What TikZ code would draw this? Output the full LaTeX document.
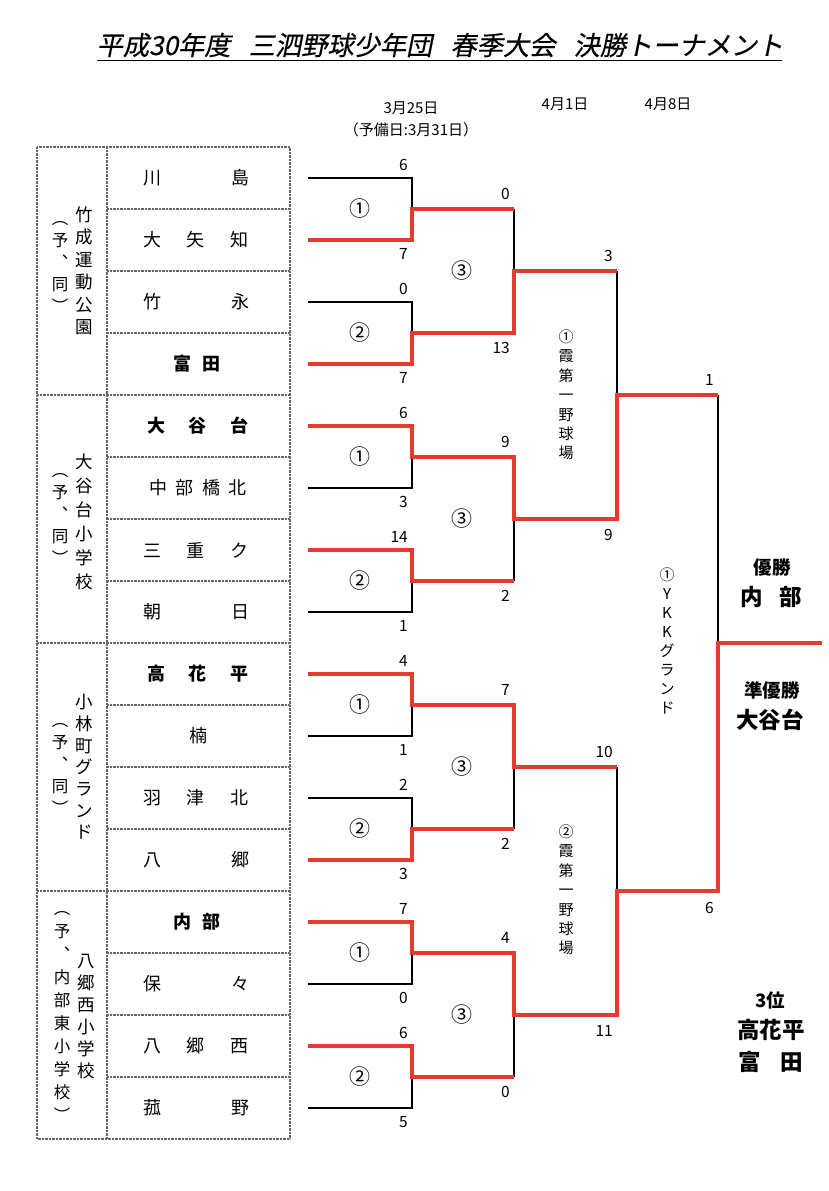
\documentclass[tikz,border=0pt]{standalone}
\usepackage{fontspec}
\setmainfont{Noto Sans CJK JP}
\newfontfamily\titlefont[FakeSlant=0.2, FakeBold=0.4]{Noto Sans CJK JP}
\definecolor{winred}{RGB}{228,58,48}
\newcommand\spr[2]{\makebox[#1pt][s]{#2}}
\tikzset{
  win/.style={draw=winred, line width=4pt, line join=miter},
  lose/.style={draw=black, line width=1.1pt},
  gridline/.style={draw=black!60, line width=1.3pt, dash pattern=on 0.7pt off 0.7pt},
  tn/.style={font=\fontsize{18}{18}\selectfont, inner sep=0pt},
  tb/.style={font=\bfseries\fontsize{18}{18}\selectfont, inner sep=0pt},
  vcol/.style={font=\fontsize{17.5}{22.5}\selectfont, align=center, inner sep=0pt},
  pcol/.style={font=\fontsize{16.5}{22}\selectfont, align=center, inner sep=0pt},
  rlab/.style={font=\fontsize{15}{19.4}\selectfont, align=center, inner sep=0pt},
  score/.style={font=\fontsize{15.5}{15.5}\selectfont, inner sep=0pt, anchor=east},
  circ/.style={font=\fontsize{21}{21}\selectfont, inner sep=0pt},
  datel/.style={font=\fontsize{15}{15}\selectfont, inner sep=0pt},
  small/.style={font=\bfseries\fontsize{18.5}{18.5}\selectfont, inner sep=0pt},
  big/.style={font=\bfseries\fontsize{22.5}{22.5}\selectfont, inner sep=0pt},
}
\begin{document}
\begin{tikzpicture}[x=1pt,y=-1pt]
\useasboundingbox (0,0) rectangle (828,1191);
% title
\node[font=\titlefont\fontsize{26.2}{26.2}\selectfont, inner sep=0pt, anchor=base] (title) at (440,55)
  {平成30年度\hspace{0.7em}三泗野球少年団\hspace{0.7em}春季大会\hspace{0.7em}決勝トーナメント};
\draw[line width=1.4pt] (97,60.5) -- (782,60.5);
% dates
\node[datel] (d1) at (411,108) {3月25日};
\node[datel] (d1b) at (411,130) {（予備日:3月31日）};
\node[datel] (d2) at (565,104) {4月1日};
\node[datel] (d3) at (668,104) {4月8日};
% table
\draw[gridline] (37,147) rectangle (290,1139);
\draw[gridline] (107,147) -- (107,1139);
\foreach \y in {209,271,333,457,519,581,705,767,829,953,1015,1077}
  \draw[gridline] (107,\y) -- (290,\y);
\foreach \y in {395,643,891}
  \draw[gridline] (37,\y) -- (290,\y);
% team names
\node[tn] (t0) at (196,178) {\spr{106}{川\hfill 島}};
\node[tn] (t1) at (196,240) {\spr{106}{大\hfill 矢\hfill 知}};
\node[tn] (t2) at (196,302) {\spr{106}{竹\hfill 永}};
\node[tb] (t3) at (197,364) {\spr{48}{富\hfill 田}};
\node[tb] (t4) at (197.5,426) {\spr{101}{大\hfill 谷\hfill 台}};
\node[tn] (t5) at (198,488) {\spr{98}{中\hfill 部\hfill 橋\hfill 北}};
\node[tn] (t6) at (196,550) {\spr{106}{三\hfill 重\hfill ク}};
\node[tn] (t7) at (196,612) {\spr{106}{朝\hfill 日}};
\node[tb] (t8) at (197.5,674) {\spr{101}{高\hfill 花\hfill 平}};
\node[tn] (t9) at (198,736) {楠};
\node[tn] (t10) at (196,798) {\spr{106}{羽\hfill 津\hfill 北}};
\node[tn] (t11) at (196,860) {\spr{106}{八\hfill 郷}};
\node[tb] (t12) at (197,922) {\spr{48}{内\hfill 部}};
\node[tn] (t13) at (196,984) {\spr{106}{保\hfill 々}};
\node[tn] (t14) at (196,1046) {\spr{106}{八\hfill 郷\hfill 西}};
\node[tn] (t15) at (196,1108) {\spr{106}{菰\hfill 野}};
% venue columns
\node[vcol] (g1) at (84,271) {竹\\成\\運\\動\\公\\園};
\node[pcol] (g1p) at (60,267) {︵\\予\\︑\\同\\︶};
\node[vcol, font=\fontsize{17.5}{24}\selectfont] (g2) at (84,522) {大\\谷\\台\\小\\学\\校};
\node[pcol] (g2p) at (60,519) {︵\\予\\︑\\同\\︶};
\node[vcol, font=\fontsize{17.5}{21.7}\selectfont] (g3) at (84,767) {小\\林\\町\\グ\\ラ\\ン\\ド};
\node[pcol] (g3p) at (60,769) {︵\\予\\︑\\同\\︶};
\node[vcol, font=\fontsize{17.5}{22}\selectfont] (g4) at (86,1017) {八\\郷\\西\\小\\学\\校};
\node[pcol, font=\fontsize{16.5}{23}\selectfont] (g4p) at (62,1016) {︵\\予\\︑\\内\\部\\東\\小\\学\\校\\︶};
% bracket: losers (black)
\foreach \a/\b in {178/209,302/333,488/457,612/581,736/705,798/829,984/953,1108/1077}
  \draw[lose] (308,\a) -- (412,\a) -- (412,\b);
\draw[lose] (514,209) -- (514,271);
\draw[lose] (514,581) -- (514,519);
\draw[lose] (514,829) -- (514,767);
\draw[lose] (514,1077) -- (514,1015);
\draw[lose] (617,271) -- (617,395);
\draw[lose] (617,767) -- (617,891);
\draw[lose] (718,395) -- (718,643);
% bracket: winners (red)
\draw[win] (308,240) -- (412,240) -- (412,209) -- (514,209);
\draw[win] (308,364) -- (412,364) -- (412,333) -- (514,333) -- (514,271) -- (617,271);
\draw[win] (308,426) -- (412,426) -- (412,457) -- (514,457) -- (514,519) -- (617,519) -- (617,395) -- (718,395);
\draw[win] (308,550) -- (412,550) -- (412,581) -- (514,581);
\draw[win] (308,674) -- (412,674) -- (412,705) -- (514,705) -- (514,767) -- (617,767);
\draw[win] (308,860) -- (412,860) -- (412,829) -- (514,829);
\draw[win] (308,922) -- (412,922) -- (412,953) -- (514,953) -- (514,1015) -- (617,1015) -- (617,891) -- (718,891) -- (718,643) -- (822,643);
\draw[win] (308,1046) -- (412,1046) -- (412,1077) -- (514,1077);
% scores
\foreach \xv/\y/\d/\t [count=\n] in {
  412/178/-13/6, 412/240/14/7, 412/302/-13/0, 412/364/14/7,
  412/426/-13/6, 412/488/14/3, 412/550/-13/14, 412/612/14/1,
  412/674/-13/4, 412/736/14/1, 412/798/-13/2, 412/860/14/3,
  412/922/-13/7, 412/984/14/0, 412/1046/-13/6, 412/1108/14/5,
  514/209/-15/0, 514/333/15/13, 514/457/-15/9, 514/581/15/2,
  514/705/-15/7, 514/829/15/2, 514/953/-15/4, 514/1077/15/0,
  617/271/-15/3, 617/519/16/9, 617/767/-15/10, 617/1015/16/11,
  718/395/-15/1, 718/891/17/6}
  \node[score] (sc\n) at (\xv-4,\y+\d) {\t};
% match numbers
\foreach \y/\t [count=\n] in {209/①,333/②,457/①,581/②,705/①,829/②,953/①,1077/②}
  \node[circ] (m\n) at (360,\y) {\t};
\foreach \y [count=\n] in {271,519,767,1015}
  \node[circ] (q\n) at (462,\y) {③};
% venues of later rounds
\node[rlab] (v1) at (566,395) {①\\霞\\第\\一\\野\\球\\場};
\node[rlab] (v2) at (566,890) {②\\霞\\第\\一\\野\\球\\場};
\node[rlab, font=\fontsize{15}{18.9}\selectfont] (v3) at (667,641) {①\\Y\\K\\K\\グ\\ラ\\ン\\ド};
% results
\node[small] (r1) at (772,567) {優勝};
\node[big] (r1n) at (771,597) {\makebox[61pt][s]{内\hfill 部}};
\node[small] (r2) at (772,690) {準優勝};
\node[big] (r2n) at (770,720) {大谷台};
\node[small] (r3) at (770,1000) {3位};
\node[big] (r3n) at (771,1030) {高花平};
\node[big] (r3m) at (771,1062) {\makebox[65pt][s]{富\hfill 田}};
\end{tikzpicture}
\end{document}
